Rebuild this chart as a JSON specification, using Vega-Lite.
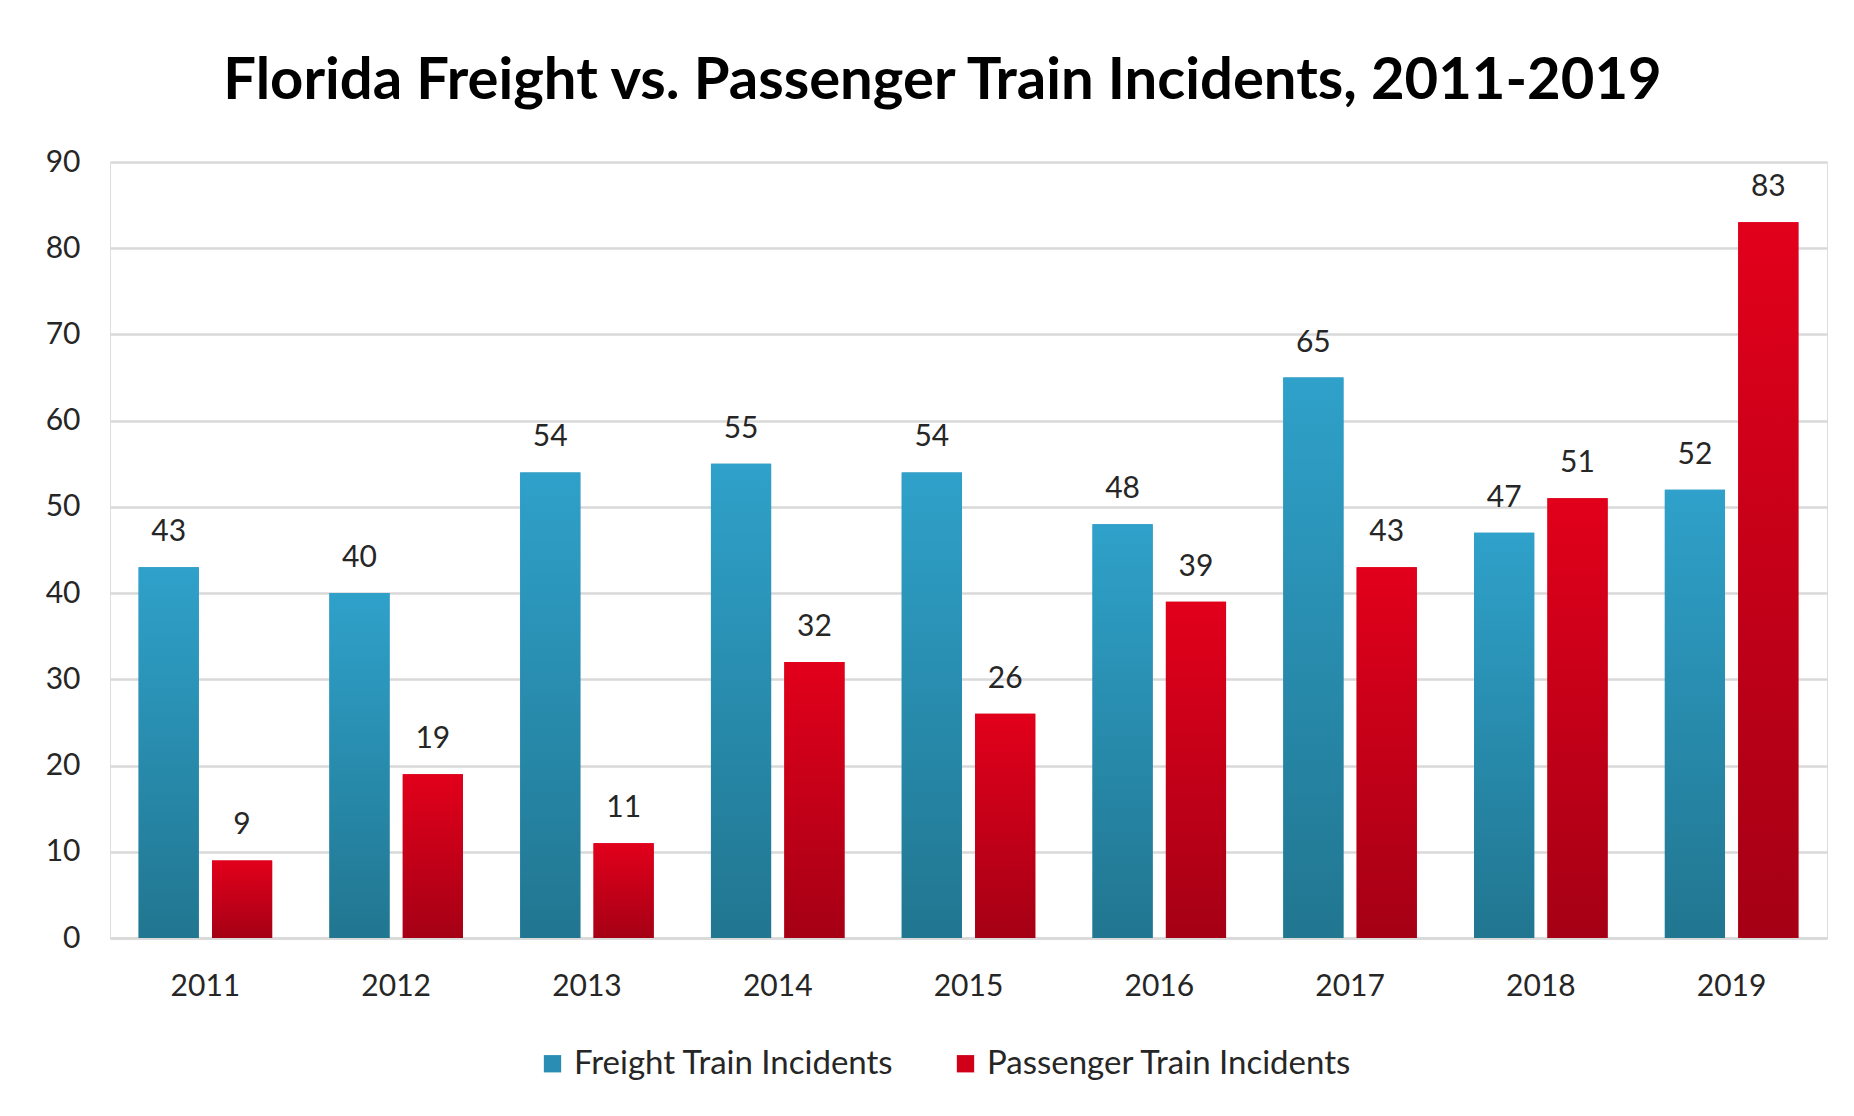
{
  "$schema": "https://vega.github.io/schema/vega-lite/v6.json",
  "autosize": {"type": "none"},
  "width": 1717,
  "height": 776,
  "padding": {"left": 110, "top": 162, "right": 27, "bottom": 178},
  "background": "white",
  "title": {
    "text": "Florida Freight vs. Passenger Train Incidents, 2011-2019",
    "font": "Lato",
    "fontSize": 58,
    "fontWeight": "bold",
    "color": "#000000",
    "anchor": "middle",
    "baseline": "bottom",
    "offset": 52,
    "dy": 74,
    "dx": -26
  },
  "data": {
    "values": [
      {"year": "2011", "series": "Freight Train Incidents", "value": 43},
      {"year": "2011", "series": "Passenger Train Incidents", "value": 9},
      {"year": "2012", "series": "Freight Train Incidents", "value": 40},
      {"year": "2012", "series": "Passenger Train Incidents", "value": 19},
      {"year": "2013", "series": "Freight Train Incidents", "value": 54},
      {"year": "2013", "series": "Passenger Train Incidents", "value": 11},
      {"year": "2014", "series": "Freight Train Incidents", "value": 55},
      {"year": "2014", "series": "Passenger Train Incidents", "value": 32},
      {"year": "2015", "series": "Freight Train Incidents", "value": 54},
      {"year": "2015", "series": "Passenger Train Incidents", "value": 26},
      {"year": "2016", "series": "Freight Train Incidents", "value": 48},
      {"year": "2016", "series": "Passenger Train Incidents", "value": 39},
      {"year": "2017", "series": "Freight Train Incidents", "value": 65},
      {"year": "2017", "series": "Passenger Train Incidents", "value": 43},
      {"year": "2018", "series": "Freight Train Incidents", "value": 47},
      {"year": "2018", "series": "Passenger Train Incidents", "value": 51},
      {"year": "2019", "series": "Freight Train Incidents", "value": 52},
      {"year": "2019", "series": "Passenger Train Incidents", "value": 83}
    ]
  },
  "encoding": {
    "x": {
      "field": "year",
      "type": "nominal",
      "scale": {"paddingInner": 0.3, "paddingOuter": 0.15},
      "axis": {
        "title": null,
        "labelAngle": 0,
        "labelFont": "Lato",
        "labelFontSize": 30,
        "labelColor": "#262626",
        "labelPadding": 33,
        "ticks": false,
        "domain": true,
        "domainColor": "#D9D9D9",
        "domainWidth": 2.5,
        "grid": false
      }
    },
    "xOffset": {
      "field": "series",
      "type": "nominal",
      "scale": {"domain": ["Freight Train Incidents", "Passenger Train Incidents"], "paddingInner": 0.18, "paddingOuter": 0}
    },
    "y": {
      "field": "value",
      "type": "quantitative",
      "scale": {"domain": [0, 90], "nice": false},
      "axis": {
        "title": null,
        "values": [0, 10, 20, 30, 40, 50, 60, 70, 80, 90],
        "labelFont": "Lato",
        "labelFontSize": 30,
        "labelColor": "#262626",
        "labelPadding": 30,
        "ticks": false,
        "domain": false,
        "grid": true,
        "gridColor": "#D9D9D9",
        "gridWidth": 2.5
      }
    }
  },
  "layer": [
    {
      "mark": {"type": "bar"},
      "encoding": {
        "color": {
          "field": "series",
          "type": "nominal",
          "scale": {"domain": ["Freight Train Incidents", "Passenger Train Incidents"], "range": ["#2A8DB4", "#D00018"]},
          "legend": {
            "title": null,
            "orient": "none",
            "legendX": 426,
            "legendY": 885,
            "direction": "horizontal",
            "symbolType": "square",
            "symbolSize": 300,
            "symbolStrokeWidth": 0,
            "labelFont": "Lato",
            "labelFontSize": 33,
            "labelColor": "#262626",
            "labelOffset": 5,
            "columnPadding": 55,
            "labelLimit": 500
          }
        }
      }
    },
    {
      "transform": [{"filter": "datum.series === 'Freight Train Incidents'"}],
      "mark": {
        "type": "bar",
        "fill": {
          "gradient": "linear", "x1": 0, "y1": 0, "x2": 0, "y2": 1,
          "stops": [{"offset": 0, "color": "#2FA1CA"}, {"offset": 1, "color": "#217690"}]
        }
      }
    },
    {
      "transform": [{"filter": "datum.series === 'Passenger Train Incidents'"}],
      "mark": {
        "type": "bar",
        "fill": {
          "gradient": "linear", "x1": 0, "y1": 0, "x2": 0, "y2": 1,
          "stops": [{"offset": 0, "color": "#E2001B"}, {"offset": 1, "color": "#A50015"}]
        }
      }
    },
    {
      "mark": {
        "type": "text",
        "baseline": "bottom",
        "dy": -20,
        "font": "Lato",
        "fontSize": 30,
        "color": "#262626"
      },
      "encoding": {"text": {"field": "value", "type": "quantitative"}}
    }
  ]
}
